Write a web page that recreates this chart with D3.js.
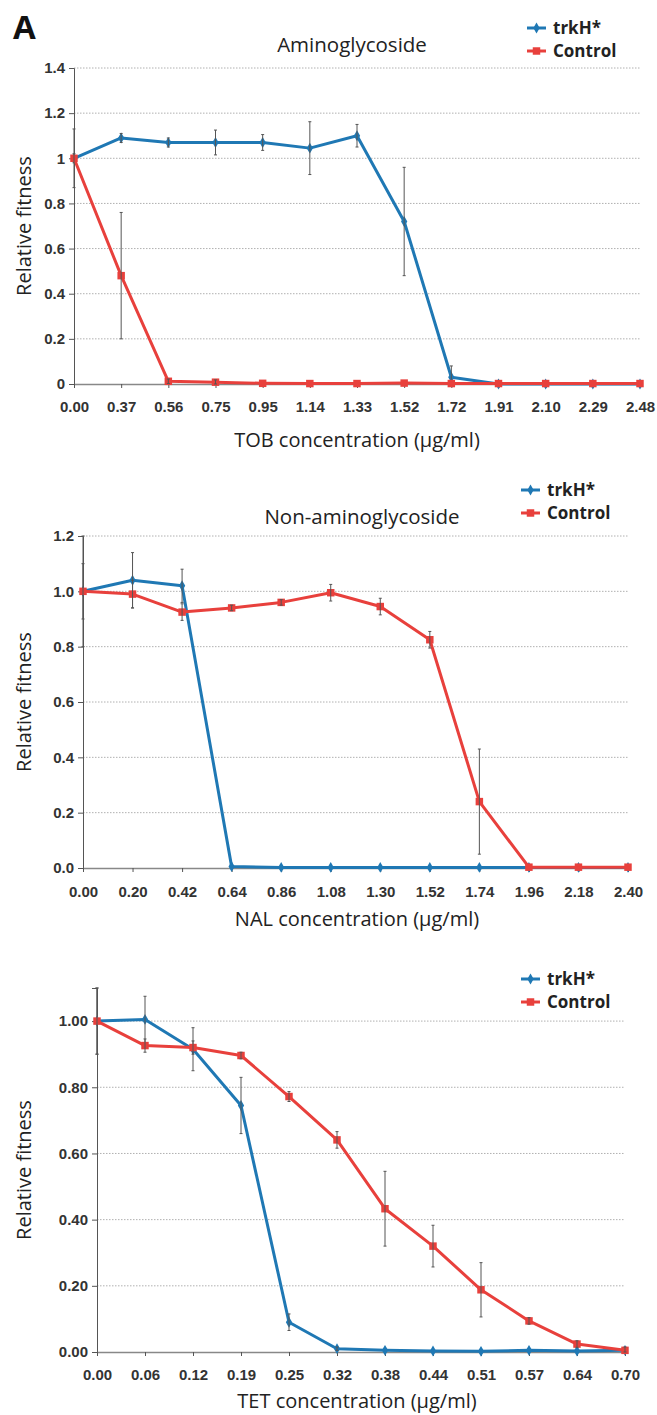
<!DOCTYPE html>
<html>
<head>
<meta charset="utf-8">
<script src="https://cdn.jsdelivr.net/npm/d3@7"></script>
<style>
  body { margin: 0; background: #fff; }
  svg { display: block; font-family: "Open Sans", "DejaVu Sans", sans-serif; }
  .tick-label { font-size: 15px; font-weight: 600; fill: #333; }
  .axis-title { font-size: 20px; fill: #222; }
  .panel-title { font-size: 20.5px; fill: #222; }
  .legend-text { font-size: 17px; font-weight: 700; fill: #222; }
</style>
</head>
<body>
<svg id="svg" width="657" height="1415"></svg>
<script>
// values
var tobLabels = ["0.00", "0.37", "0.56", "0.75", "0.95", "1.14", "1.33", "1.52", "1.72", "1.91", "2.10", "2.29", "2.48"];
var tobTrkH = [1.00, 1.09, 1.07, 1.07, 1.07, 1.045, 1.10, 0.72, 0.03, 0, 0, 0, 0];
var tobTrkHErr = [0.02, 0.02, 0.02, 0.055, 0.035, 0.117, 0.05, 0.24, 0.05, 0, 0, 0, 0];
var tobControl = [1.00, 0.48, 0.012, 0.008, 0.003, 0.002, 0.002, 0.004, 0.002, 0.002, 0.002, 0.002, 0.002];
var tobControlErr = [0.13, 0.28, 0.01, 0.01, 0, 0, 0, 0, 0, 0, 0, 0, 0];

var nalLabels = ["0.00", "0.20", "0.42", "0.64", "0.86", "1.08", "1.30", "1.52", "1.74", "1.96", "2.18", "2.40"];
var nalTrkH = [1.00, 1.04, 1.02, 0.005, 0.002, 0.002, 0.002, 0.002, 0.002, 0.002, 0.002, 0.002];
var nalTrkHErr = [0.2, 0.10, 0.06, 0, 0, 0, 0, 0, 0, 0, 0, 0];
var nalControl = [1.00, 0.99, 0.925, 0.94, 0.96, 0.995, 0.945, 0.825, 0.24, 0.003, 0.003, 0.003];
var nalControlErr = [0.1, 0.05, 0.03, 0.01, 0.01, 0.03, 0.03, 0.03, 0.19, 0, 0, 0];

var tetLabels = ["0.00", "0.06", "0.12", "0.19", "0.25", "0.32", "0.38", "0.44", "0.51", "0.57", "0.64", "0.70"];
var tetTrkH = [1.00, 1.005, 0.915, 0.745, 0.09, 0.01, 0.005, 0.003, 0.002, 0.005, 0.003, 0.005];
var tetTrkHErr = [0.1, 0.07, 0.065, 0.085, 0.025, 0.005, 0, 0, 0, 0, 0, 0];
var tetControl = [1.00, 0.926, 0.92, 0.896, 0.772, 0.641, 0.433, 0.32, 0.188, 0.094, 0.024, 0.005];
var tetControlErr = [0.1, 0.02, 0.02, 0.01, 0.015, 0.025, 0.113, 0.063, 0.082, 0.01, 0.01, 0.01];

var seriesNames = ["trkH*", "Control"];
var blue = "#1f78b4";
var red = "#e8403c";

var panels = [
    { labels: tobLabels, trkh: tobTrkH, trkhErr: tobTrkHErr, ctrl: tobControl, ctrlErr: tobControlErr,
      title: "Aminoglycoside", xTitle: "TOB concentration (\u00b5g/ml)",
      x0: 74, x1: 640, yTop: 68, yBottom: 384, yMax: 1.4, ticks: d3.range(0, 1.41, 0.2),
      fmt: function(d) { return String(+d.toFixed(1)); },
      titleX: 352, titleY: 52, legendX: 527, legendY: 28, xTitleY: 447, labelY: 407 },
    { labels: nalLabels, trkh: nalTrkH, trkhErr: nalTrkHErr, ctrl: nalControl, ctrlErr: nalControlErr,
      title: "Non-aminoglycoside", xTitle: "NAL concentration (\u00b5g/ml)",
      x0: 83, x1: 628, yTop: 536, yBottom: 868, yMax: 1.2, ticks: d3.range(0, 1.21, 0.2),
      fmt: d3.format(".1f"),
      titleX: 362, titleY: 524, legendX: 521, legendY: 490, xTitleY: 926, labelY: 892 },
    { labels: tetLabels, trkh: tetTrkH, trkhErr: tetTrkHErr, ctrl: tetControl, ctrlErr: tetControlErr,
      title: "", xTitle: "TET concentration (\u00b5g/ml)",
      x0: 97, x1: 625, yTop: 988, yBottom: 1352, yMax: 1.1, ticks: d3.range(0, 1.01, 0.2),
      fmt: d3.format(".2f"),
      titleX: 0, titleY: 0, legendX: 521, legendY: 979, xTitleY: 1408, labelY: 1375 }
];

var svg = d3.select("#svg");

svg.append("text")
    .text("A")
    .attr("x", 13)
    .attr("y", 39)
    .attr("font-size", "33px")
    .attr("font-weight", "bold")
    .attr("font-family", "'Open Sans', sans-serif")
    .attr("fill", "#111");

panels.forEach(function(p) {
    var g = svg.append("g");

    var xScale = d3.scalePoint().domain(p.labels).range([p.x0, p.x1]).padding(0);
    var yScale = d3.scaleLinear().domain([0, p.yMax]).range([p.yBottom, p.yTop]);

    // dotted gridlines
    g.selectAll(".grid")
        .data(p.ticks.filter(function(t) { return t > 0.001; }))
        .enter()
        .append("line")
        .attr("x1", p.x0)
        .attr("x2", p.x1)
        .attr("y1", function(d) { return yScale(d); })
        .attr("y2", function(d) { return yScale(d); })
        .attr("stroke", "#b0b0b0")
        .attr("stroke-width", 1)
        .attr("stroke-dasharray", "1.5,1.5");

    // y axis
    var yAxis = d3.axisLeft(yScale).tickValues(p.ticks).tickFormat(p.fmt).tickSize(5).tickPadding(4);
    var ya = g.append("g")
        .attr("transform", "translate(" + p.x0 + ",0)")
        .call(yAxis);
    ya.select(".domain").attr("stroke", "#555");
    ya.selectAll(".tick line").attr("stroke", "#555");
    ya.selectAll(".tick text").attr("class", "tick-label").attr("font-family", null).attr("font-size", null);

    // x axis
    var xAxis = d3.axisBottom(xScale).tickSize(4).tickPadding(10).tickSizeOuter(0);
    var xa = g.append("g")
        .attr("transform", "translate(0," + p.yBottom + ")")
        .call(xAxis);
    xa.select(".domain").attr("stroke", "#888").attr("stroke-width", 1.5);
    xa.selectAll(".tick line").attr("stroke", "#555");
    xa.selectAll(".tick text").attr("class", "tick-label").attr("font-family", null).attr("font-size", null)
        .attr("y", p.labelY - p.yBottom).attr("dy", "0.35em");

    // y axis title
    g.append("text")
        .text("Relative fitness")
        .attr("class", "axis-title")
        .attr("text-anchor", "middle")
        .attr("transform", "translate(31," + (p.yBottom + p.yTop) / 2 + ") rotate(-90)");

    // x axis title
    g.append("text")
        .text(p.xTitle)
        .attr("class", "axis-title")
        .attr("text-anchor", "middle")
        .attr("x", 357)
        .attr("y", p.xTitleY);

    if (p.title) {
        g.append("text")
            .text(p.title)
            .attr("class", "panel-title")
            .attr("text-anchor", "middle")
            .attr("x", p.titleX)
            .attr("y", p.titleY);
    }

    var series = [
        { name: seriesNames[0], values: p.trkh, errs: p.trkhErr, color: blue, shape: "circle" },
        { name: seriesNames[1], values: p.ctrl, errs: p.ctrlErr, color: red, shape: "square" }
    ];

    var line = d3.line()
        .x(function(d, i) { return xScale(p.labels[i]); })
        .y(function(d) { return yScale(d); });

    series.forEach(function(s) {
        g.append("path")
            .datum(s.values)
            .attr("d", line)
            .attr("fill", "none")
            .attr("stroke", s.color)
            .attr("stroke-width", 3)
            .attr("stroke-linejoin", "round");

        var sym = d3.symbol()
            .type(s.shape === "circle" ? d3.symbolDiamond : d3.symbolSquare)
            .size(s.shape === "circle" ? 34 : 56);

        g.selectAll(".marker-" + s.shape)
            .data(s.values)
            .enter()
            .append("path")
            .attr("d", sym)
            .attr("transform", function(d, i) {
                return "translate(" + xScale(p.labels[i]) + "," + yScale(d) + ")";
            })
            .attr("fill", s.color);

        var errData = s.values.map(function(v, i) { return { v: v, e: s.errs[i], k: p.labels[i] }; })
            .filter(function(d) { return d.e > 0; });

        var eb = g.selectAll(".err-" + s.shape)
            .data(errData)
            .enter()
            .append("g");
        eb.append("line")
            .attr("x1", function(d) { return xScale(d.k); })
            .attr("x2", function(d) { return xScale(d.k); })
            .attr("y1", function(d) { return yScale(Math.min(p.yMax, d.v + d.e)); })
            .attr("y2", function(d) { return yScale(Math.max(0, d.v - d.e)); })
            .attr("stroke", "#555")
            .attr("stroke-width", 1);
        [1, -1].forEach(function(sgn) {
            eb.append("line")
                .attr("x1", function(d) { return xScale(d.k) - 1.5; })
                .attr("x2", function(d) { return xScale(d.k) + 1.5; })
                .attr("y1", function(d) { return yScale(Math.max(0, Math.min(p.yMax, d.v + sgn * d.e))); })
                .attr("y2", function(d) { return yScale(Math.max(0, Math.min(p.yMax, d.v + sgn * d.e))); })
                .attr("stroke", "#555")
                .attr("stroke-width", 1);
        });
    });

    // legend
    var leg = g.append("g");
    series.forEach(function(s, i) {
        var ly = p.legendY + i * 23;
        leg.append("line")
            .attr("x1", p.legendX)
            .attr("x2", p.legendX + 19)
            .attr("y1", ly)
            .attr("y2", ly)
            .attr("stroke", s.color)
            .attr("stroke-width", 3);
        leg.append("path")
            .attr("d", d3.symbol().type(s.shape === "circle" ? d3.symbolDiamond : d3.symbolSquare).size(s.shape === "circle" ? 34 : 56))
            .attr("transform", "translate(" + (p.legendX + 9.5) + "," + ly + ")")
            .attr("fill", s.color);
        leg.append("text")
            .text(s.name)
            .attr("class", "legend-text")
            .attr("x", p.legendX + 26)
            .attr("y", ly)
            .attr("dy", "0.35em");
    });
});
</script>
</body>
</html>
